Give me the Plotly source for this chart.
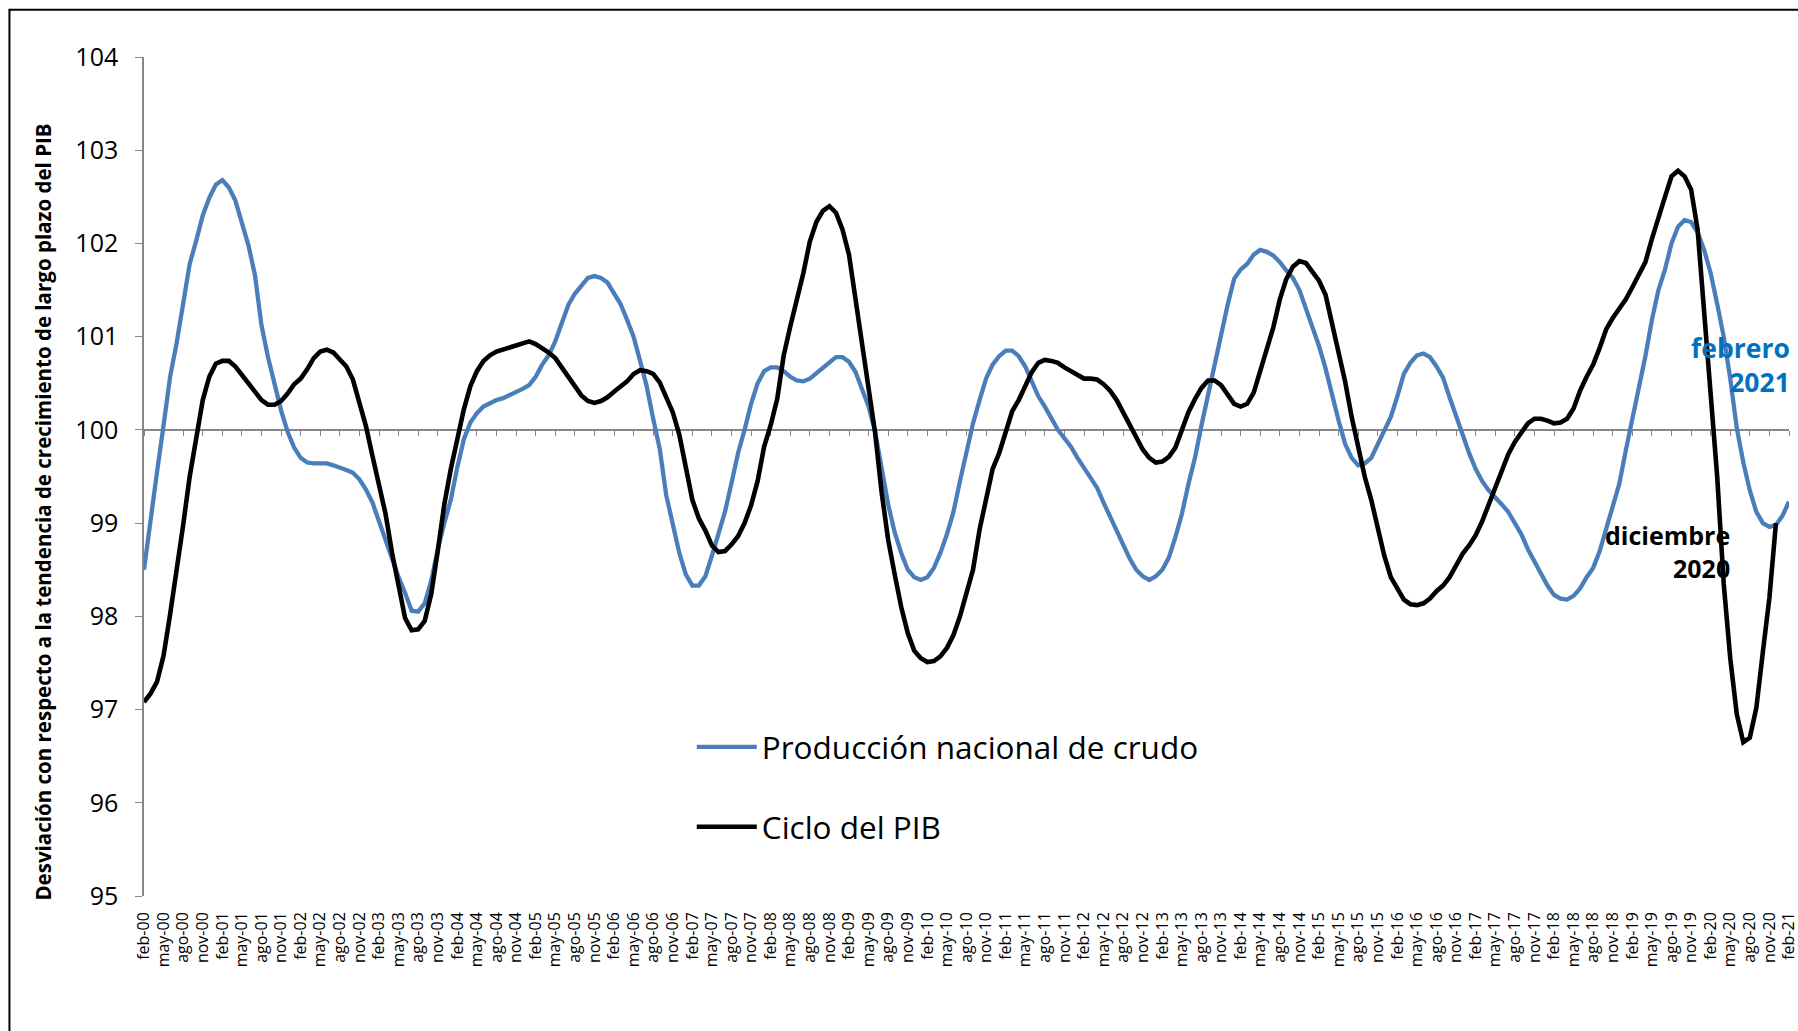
import plotly.graph_objects as go

# ---------------- data ----------------
MESES = ["ene", "feb", "mar", "abr", "may", "jun", "jul", "ago", "sep", "oct", "nov", "dic"]
N_MESES = 253  # feb-00 ... feb-21
categorias = [f"{MESES[(1 + i) % 12]}-{(2000 + (1 + i) // 12) % 100:02d}" for i in range(N_MESES)]
etiquetas_x = categorias[::3]

produccion_crudo = [
    98.50, 99.05, 99.55, 100.05, 100.57, 100.93, 101.38, 101.78, 102.03, 102.30,
    102.49, 102.63, 102.68, 102.60, 102.46, 102.22, 101.98, 101.66, 101.12, 100.78,
    100.50, 100.21, 99.98, 99.81, 99.70, 99.65, 99.64, 99.64, 99.64, 99.62,
    99.60, 99.57, 99.54, 99.47, 99.36, 99.22, 99.02, 98.82, 98.60, 98.42,
    98.25, 98.06, 98.05, 98.14, 98.38, 98.72, 99.00, 99.25, 99.60, 99.90,
    100.08, 100.18, 100.25, 100.29, 100.32, 100.34, 100.37, 100.41, 100.44, 100.48,
    100.57, 100.70, 100.80, 100.95, 101.14, 101.34, 101.46, 101.55, 101.63, 101.65,
    101.63, 101.58, 101.47, 101.35, 101.18, 101.00, 100.74, 100.47, 100.12, 99.80,
    99.30, 98.98, 98.68, 98.45, 98.33, 98.33, 98.43, 98.65, 98.87, 99.12,
    99.43, 99.75, 100.00, 100.28, 100.50, 100.63, 100.67, 100.67, 100.63, 100.57,
    100.53, 100.52, 100.55, 100.61, 100.67, 100.72, 100.78, 100.78, 100.73, 100.62,
    100.42, 100.25, 99.98, 99.60, 99.20, 98.90, 98.68, 98.50, 98.42, 98.39,
    98.42, 98.52, 98.68, 98.88, 99.12, 99.45, 99.78, 100.07, 100.32, 100.55,
    100.70, 100.79, 100.85, 100.85, 100.79, 100.68, 100.52, 100.36, 100.25, 100.12,
    100.00, 99.91, 99.82, 99.70, 99.60, 99.50, 99.38, 99.22, 99.08, 98.92,
    98.77, 98.62, 98.50, 98.43, 98.39, 98.43, 98.50, 98.63, 98.85, 99.10,
    99.42, 99.70, 100.05, 100.38, 100.70, 101.00, 101.34, 101.62, 101.72, 101.78,
    101.88, 101.93, 101.91, 101.87, 101.80, 101.71, 101.63, 101.50, 101.30, 101.10,
    100.90, 100.66, 100.36, 100.10, 99.85, 99.70, 99.62, 99.64, 99.70, 99.85,
    100.00, 100.14, 100.36, 100.60, 100.72, 100.80, 100.82, 100.78, 100.68, 100.56,
    100.35, 100.15, 99.92, 99.75, 99.58, 99.45, 99.35, 99.28, 99.20, 99.12,
    99.00, 98.88, 98.72, 98.58, 98.46, 98.33, 98.23, 98.19, 98.18, 98.22,
    98.30, 98.42, 98.52, 98.70, 98.95, 99.20, 99.42, 99.78, 100.10, 100.47,
    100.79, 101.18, 101.50, 101.72, 102.00, 102.18, 102.25, 102.23, 102.12, 101.93,
    101.68, 101.35, 101.00, 100.55, 100.02, 99.65, 99.35, 99.12, 99.00, 98.96,
    98.98, 99.08, 99.23,
]

ciclo_pib = [
    97.08, 97.17, 97.30, 97.58, 98.02, 98.47, 98.98, 99.50, 99.90, 100.32,
    100.57, 100.71, 100.74, 100.74, 100.68, 100.59, 100.51, 100.42, 100.32, 100.27,
    100.27, 100.31, 100.39, 100.49, 100.55, 100.65, 100.77, 100.84, 100.86, 100.83,
    100.76, 100.68, 100.54, 100.30, 100.04, 99.72, 99.43, 99.10, 98.68, 98.33,
    97.98, 97.85, 97.86, 97.95, 98.24, 98.70, 99.20, 99.58, 99.90, 100.22,
    100.47, 100.63, 100.74, 100.80, 100.84, 100.86, 100.89, 100.91, 100.93, 100.95,
    100.92, 100.88, 100.83, 100.77, 100.67, 100.56, 100.45, 100.37, 100.31, 100.29,
    100.31, 100.35, 100.41, 100.46, 100.52, 100.60, 100.64, 100.63, 100.60, 100.51,
    100.35, 100.19, 99.95, 99.62, 99.25, 99.05, 98.92, 98.76, 98.69, 98.70,
    98.77, 98.86, 99.00, 99.19, 99.45, 99.82, 100.05, 100.33, 100.80, 101.11,
    101.38, 101.68, 102.02, 102.23, 102.35, 102.40, 102.33, 102.15, 101.88, 101.40,
    100.88, 100.40, 99.97, 99.33, 98.82, 98.45, 98.10, 97.82, 97.63, 97.55,
    97.51, 97.52, 97.57, 97.66, 97.80, 98.00, 98.23, 98.50, 98.93, 99.25,
    99.58, 99.75, 99.98, 100.20, 100.32, 100.47, 100.62, 100.72, 100.75, 100.74,
    100.72, 100.67, 100.63, 100.59, 100.55, 100.55, 100.54, 100.49, 100.42, 100.32,
    100.19, 100.05, 99.91, 99.79, 99.70, 99.65, 99.66, 99.71, 99.81, 100.00,
    100.19, 100.33, 100.45, 100.53, 100.53, 100.48, 100.38, 100.28, 100.25, 100.28,
    100.40, 100.63, 100.86, 101.10, 101.40, 101.62, 101.75, 101.81, 101.79, 101.70,
    101.60, 101.45, 101.13, 100.79, 100.52, 100.14, 99.80, 99.50, 99.25, 98.93,
    98.65, 98.42, 98.29, 98.18, 98.13, 98.12, 98.14, 98.19, 98.27, 98.33,
    98.42, 98.54, 98.67, 98.76, 98.87, 99.02, 99.20, 99.39, 99.58, 99.74,
    99.87, 99.97, 100.07, 100.12, 100.12, 100.10, 100.07, 100.08, 100.12, 100.23,
    100.42, 100.57, 100.70, 100.88, 101.08, 101.20, 101.29, 101.40, 101.53, 101.66,
    101.80, 102.05, 102.29, 102.50, 102.72, 102.78, 102.72, 102.58, 102.15, 101.25,
    100.35, 99.50, 98.35, 97.55, 96.95, 96.65, 96.70, 97.02, 97.62, 98.20,
    99.00,
]

y_ticks = list(range(95, 105))

# ---------------- style ----------------
FONT = "Open Sans"
AXIS_GRAY = "#878787"
BLUE = "#4A7EBB"

fig = go.Figure()
fig.add_trace(go.Scatter(
    x=categorias[:len(produccion_crudo)], y=produccion_crudo,
    name="Producción nacional de crudo", mode="lines",
    line=dict(color=BLUE, width=4.3), xaxis="x", yaxis="y",
    legendgroup="a",
))
fig.add_trace(go.Scatter(
    x=categorias[:len(ciclo_pib)], y=ciclo_pib,
    name="Ciclo del PIB", mode="lines",
    line=dict(color="#000000", width=4.6), xaxis="x2", yaxis="y",
    legendgroup="b",
))

common_x = dict(type="category", categoryorder="array", categoryarray=categorias,
                range=[0, N_MESES - 1], showgrid=False, zeroline=False,
                automargin=False)

fig.update_layout(
    width=1798, height=1031,
    margin=dict(l=144, r=9, t=57, b=135, autoexpand=False),
    paper_bgcolor="white", plot_bgcolor="white",
    font=dict(family=FONT, color="black"),
    xaxis=dict(**common_x, anchor="free", position=5 / 9,
               showline=True, linecolor=AXIS_GRAY, linewidth=1.5,
               ticks="outside", ticklen=5, tickwidth=1.3, tickcolor=AXIS_GRAY,
               tickmode="array", tickvals=etiquetas_x, showticklabels=False,
               layer="below traces"),
    xaxis2=dict(**common_x, overlaying="x", anchor="y", side="bottom",
                showline=False, ticks="", tickmode="array",
                tickvals=etiquetas_x, ticktext=etiquetas_x, tickangle=-90,
                tickfont=dict(family=FONT, size=16, color="black"),
                ticklabelstandoff=12, ticklabeloverflow="allow"),
    yaxis=dict(range=[95, 104], tickmode="array", tickvals=y_ticks,
               showline=True, linecolor=AXIS_GRAY, linewidth=1.5,
               ticks="outside", ticklen=7, tickwidth=1.3, tickcolor=AXIS_GRAY,
               tickfont=dict(family=FONT, size=25, color="black"),
               ticklabelstandoff=12, showgrid=False, zeroline=False,
               automargin=False),
    legend=dict(x=0.333, y=0.21, xanchor="left", yanchor="top",
                font=dict(family=FONT, size=31.5, color="black"),
                bgcolor="rgba(0,0,0,0)", tracegroupgap=36,
                itemwidth=60),
    showlegend=True,
    shapes=[dict(type="rect", xref="paper", yref="paper",
                 x0=-0.0818, x1=1.2, y0=-0.5, y1=1.0564,
                 line=dict(color="black", width=2), layer="above")],
    annotations=[
        dict(text="<b>Desviación con respecto a la tendencia de crecimiento de largo plazo del PIB</b>",
             xref="paper", yref="paper", x=-0.0611, y=0.4576,
             xanchor="center", yanchor="middle", textangle=-90, showarrow=False,
             font=dict(family=FONT, size=20.5, color="black")),
        dict(text="<b>febrero<br>2021</b>", xref="paper", yref="paper",
             x=1.0018, y=0.633, xanchor="right", yanchor="middle", align="right",
             showarrow=False, font=dict(family=FONT, size=26.5, color="#0070C0")),
        dict(text="<b>diciembre<br>2020</b>", xref="paper", yref="paper",
             x=0.9653, y=0.4105, xanchor="right", yanchor="middle", align="right",
             showarrow=False, font=dict(family=FONT, size=25, color="black")),
    ],
)

fig.write_html("out.html", config={"displayModeBar": False},
               post_script="document.body.style.margin='0';")
